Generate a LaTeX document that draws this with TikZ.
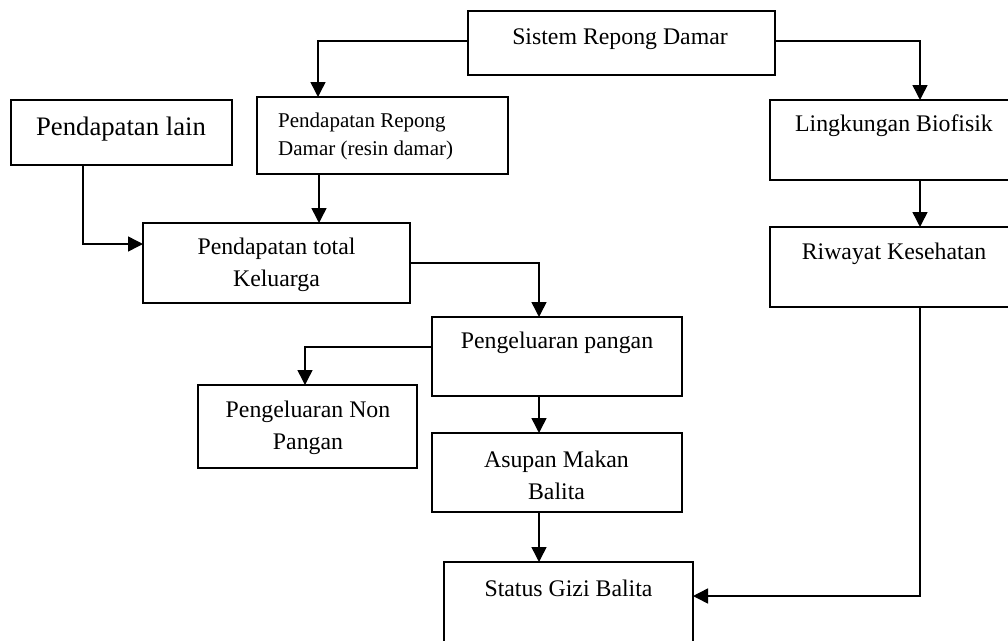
\documentclass[tikz,border=0pt]{standalone}
\usepackage{fontspec}
\setmainfont{Liberation Serif}
\usetikzlibrary{arrows.meta}
\tikzset{
  box/.style={draw, line width=1.5pt, rectangle, inner sep=0pt, outer sep=0pt},
  txt/.style={inner sep=0pt, font=\fontsize{23.8}{32}\selectfont, align=center},
  conn/.style={line width=1.5pt, -{Triangle[length=15pt,width=15pt]}},
  plainconn/.style={line width=1.5pt}
}
\begin{document}
\begin{tikzpicture}[x=1pt,y=-1pt]
\useasboundingbox (0,0) rectangle (1008,640);
\fill[white] (0,0) rectangle (1008,640);
\clip (0,0) rectangle (1008,640);
% boxes
\node[box, minimum width=307pt, minimum height=64pt] (srd) at (621.5,43) {};
\node[box, minimum width=251pt, minimum height=77pt] (prd) at (382.5,135.5) {};
\node[box, minimum width=221pt, minimum height=65pt] (plain) at (121.5,132.5) {};
\node[box, minimum width=267pt, minimum height=80pt] (ptk) at (276.5,263) {};
\node[box, minimum width=248pt, minimum height=80pt] (lb) at (894,140) {};
\node[box, minimum width=248pt, minimum height=80pt] (rk) at (894,267) {};
\node[box, minimum width=250pt, minimum height=79pt] (pp) at (557,356.5) {};
\node[box, minimum width=219pt, minimum height=83pt] (pnp) at (307.5,426.5) {};
\node[box, minimum width=250pt, minimum height=79pt] (amb) at (557,472.5) {};
\node[box, minimum width=249pt, minimum height=100pt] (sgb) at (568.5,612) {};
% texts
\node[txt] (srd-t) at (620,39) {Sistem Repong Damar};
\node[txt, font=\fontsize{21}{28}\selectfont, align=left, anchor=west] (prd-t) at (278,136) {Pendapatan Repong\\Damar (resin damar)};
\node[txt, font=\fontsize{26.7}{32}\selectfont] (plain-t) at (121,129) {Pendapatan lain};
\node[txt] (ptk-t) at (276.5,265) {Pendapatan total\\Keluarga};
\node[txt] (lb-t) at (894,126) {Lingkungan Biofisik};
\node[txt] (rk-t) at (894,254) {Riwayat Kesehatan};
\node[txt] (pp-t) at (557,343) {Pengeluaran pangan};
\node[txt] (pnp-t) at (308,428) {Pengeluaran Non\\Pangan};
\node[txt] (amb-t) at (556.5,475) {Asupan Makan\\Balita};
\node[txt] (sgb-t) at (568.5,588) {Status Gizi Balita};
% connectors
\coordinate (c1) at (318,41);
\draw[conn] ([yshift=2pt]srd.west) -- (c1) -- (c1 |- prd.north);
\coordinate (c2) at (920,41);
\draw[conn] ([yshift=2pt]srd.east) -- (c2) -- (c2 |- lb.north);
\draw[conn] (prd.south -| 319,0) -- (319,0 |- ptk.north);
\coordinate (c3) at (83,244);
\draw[conn] (plain.south -| c3) -- (c3) -- (c3 -| ptk.west);
\coordinate (c4) at (539,263);
\draw[conn] (ptk.east) -- (c4) -- (c4 |- pp.north);
\coordinate (c5) at (305,347);
\draw[conn] ([yshift=9.5pt]pp.west) -- (c5) -- (c5 |- pnp.north);
\draw[conn] (pp.south -| c4) -- (c4 |- amb.north);
\draw[conn] (amb.south -| c4) -- (c4 |- sgb.north);
\draw[conn] (lb.south -| c2) -- (c2 |- rk.north);
\coordinate (c6) at (920,596);
\draw[conn] (rk.south -| c6) -- (c6) -- (c6 -| sgb.east);
\end{tikzpicture}
\end{document}
